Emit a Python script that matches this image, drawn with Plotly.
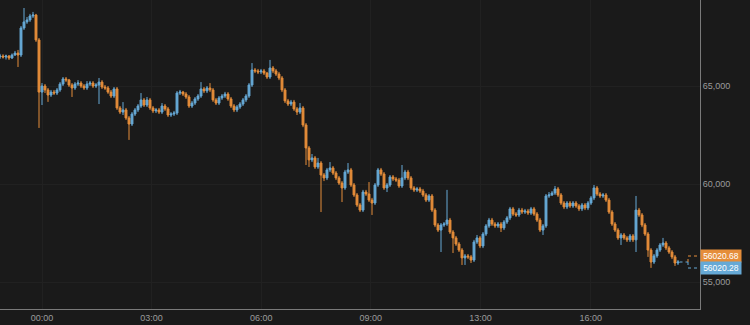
import plotly.graph_objects as go

# ---- data ----
tick_pos = [14.0, 50.5, 87.1, 123.6, 160.2, 196.9]
tick_labels = ["00:00", "03:00", "06:00", "09:00", "13:00", "16:00"]

opens = [
66480,66530,66480,66530,66430,66580,66680,66580,67960,68270,
68370,68570,68620,67350,64690,65000,64800,64540,64690,64640,
64800,65100,65360,65310,65050,64900,65100,65150,65000,64900,
65100,65150,65000,65050,65200,64950,64900,64690,64490,64850,
63880,63670,63780,63370,63060,63570,63780,63980,64290,64030,
64290,63880,63730,63780,63670,63980,63830,63520,63570,63620,
64640,64690,64590,64440,63980,64130,64340,64490,64850,64750,
64900,64800,64290,64130,64390,64490,64590,64340,63980,63780,
63930,64080,64290,64490,65050,65820,65770,65720,65770,65660,
65460,65920,65770,65610,65410,64800,64240,64080,64180,63830,
63670,63880,63010,61840,61230,61330,60870,61070,60460,60310,
60720,60820,60560,60310,60050,59800,60610,60720,59950,59440,
58930,58670,59590,59490,59180,59030,59950,60720,60510,59800,
59950,60360,60260,60200,59900,60310,60610,60310,59800,59690,
59750,59640,59440,59180,59390,58670,57910,57650,57910,57960,
58160,57550,57250,56940,56630,56230,56330,56280,56120,57040,
57250,56840,57450,57860,58160,57960,57860,57960,57760,58060,
58270,58730,58470,58420,58670,58570,58620,58520,58730,58470,
58160,57650,57860,59390,59440,59540,59750,59440,59030,58830,
59030,58880,59030,58880,58730,58930,58780,59030,59290,59800,
59490,59390,59440,59180,58570,57960,57650,57250,57400,57250,
57150,57350,57150,58670,58420,57910,57450,56630,56020,56330,
56630,56890,56990,56740,56530,56280,55970]

closes = [
66530,66480,66530,66430,66580,66680,66580,67960,68270,68370,
68570,68620,67350,64690,65000,64800,64540,64690,64640,64800,
65100,65360,65310,65050,64900,65100,65150,65000,64900,65100,
65150,65000,65050,65200,64950,64900,64690,64490,64850,63880,
63670,63780,63370,63060,63570,63780,63980,64290,64030,64290,
63880,63730,63780,63670,63980,63830,63520,63570,63620,64640,
64690,64590,64440,63980,64130,64340,64490,64850,64750,64900,
64800,64290,64130,64390,64490,64590,64340,63980,63780,63930,
64080,64290,64490,65050,65820,65770,65720,65770,65660,65460,
65920,65770,65610,65410,64800,64240,64080,64180,63830,63670,
63880,63010,61840,61230,61330,60870,61070,60460,60310,60720,
60820,60560,60310,60050,59800,60610,60720,59950,59440,58930,
58670,59590,59490,59180,59030,59950,60720,60510,59800,59950,
60360,60260,60200,59900,60310,60610,60310,59800,59690,59750,
59640,59440,59180,59390,58670,57910,57650,57910,57960,58160,
57550,57250,56940,56630,56230,56330,56280,56120,57040,57250,
56840,57450,57860,58160,57960,57860,57960,57760,58060,58270,
58730,58470,58420,58670,58570,58620,58520,58730,58470,58160,
57650,57860,59390,59440,59540,59750,59440,59030,58830,59030,
58880,59030,58880,58730,58930,58780,59030,59290,59800,59490,
59390,59440,59180,58570,57960,57650,57250,57400,57250,57150,
57350,57150,58670,58420,57910,57450,56630,56020,56330,56630,
56890,56990,56740,56530,56280,55970,56020.28]

highs = [
66640,66620,66600,66580,66660,66790,66840,68060,68980,68520,
68680,68780,68680,67450,65150,65100,64900,64800,64800,64900,
65200,65460,65460,65360,65150,65200,65300,65250,65100,65250,
65260,65250,65150,65410,65300,65050,65000,64800,64950,64950,
63980,64180,63880,63470,63670,63880,64080,64640,64390,64440,
64390,63980,63880,63880,64130,64080,63930,63670,63730,64740,
64800,64750,64690,64540,64240,64440,64590,65200,64950,65000,
65150,64900,64390,64490,64590,64700,64690,64440,64080,64030,
64180,64390,64590,65150,66170,65920,65870,65870,65870,65720,
66330,66020,65870,65720,65510,64900,64340,64290,64290,63930,
64130,63980,63110,61940,61530,61430,61330,61170,60560,60820,
61120,60920,60660,60410,60150,60720,61070,60820,60050,59540,
59030,59700,59700,60100,59290,60050,60820,60820,60610,60050,
60460,60460,60360,60310,60970,60720,60720,60410,59900,59850,
59850,59750,59540,59490,59490,58770,58010,58010,58060,59700,
58270,57650,57350,57040,56730,56430,56430,56380,57150,57400,
57350,57550,57960,58270,58270,58060,58060,58060,58160,58370,
58830,58830,58570,58780,58780,58730,58730,58830,58830,58570,
58270,57960,59490,59590,59640,59900,59850,59540,59130,59130,
59130,59130,59130,58980,59030,59030,59130,59390,59950,59900,
59590,59540,59540,59290,58670,58060,57750,57500,57500,57350,
57450,57450,59390,58780,58520,58010,57550,56730,56430,56730,
56990,57250,57090,56840,56630,56380,56120]

lows = [
66380,66400,66350,66330,66380,66540,65970,66480,67860,68170,
68270,68470,67250,62860,64030,64640,64190,64440,64540,64540,
64700,65000,65200,64950,64440,64800,65000,64900,64800,64800,
65000,64900,64900,64080,64850,64800,64600,64390,64390,63780,
63570,63520,63270,62250,62960,63470,63670,63880,63930,63930,
63780,63620,63620,63570,63570,63730,63420,63420,63470,63520,
64540,64490,64340,63880,63880,64030,64240,64390,64640,64640,
64690,64190,64030,64030,64290,64390,64240,63880,63670,63670,
63830,63980,64180,64390,64950,65660,65610,65610,65560,65360,
65360,65660,65510,65300,64690,64130,63980,63980,63730,63520,
63570,62900,60970,60870,61120,60770,60770,58570,60150,60200,
60610,60460,60200,59950,59080,59700,60510,59850,59340,58830,
58570,58570,59390,59080,58420,58930,59850,60410,59700,59590,
59850,60150,60100,59800,59800,60200,60200,59700,59590,59590,
59540,59340,59080,59080,58570,57800,57550,56530,57810,57860,
57450,56480,56840,56530,55870,55870,56170,55970,56020,56940,
56730,56730,57350,57760,57860,57760,57760,57550,57650,57960,
58160,58370,58320,58320,58470,58470,58420,58420,58370,58060,
57550,57400,57760,59290,59390,59440,59340,58930,58720,58720,
58780,58780,58780,58620,58620,58670,58670,58930,59180,59390,
59290,59290,59080,58470,57860,57550,57150,56890,57150,57040,
57040,57040,56530,58320,57800,57350,56280,55720,55920,56230,
56530,56790,56630,56430,56170,55820,55870]

ask_price = 56020.68
bid_price = 56020.28

# ---- styling ----
UP = "#66a9d6"
DOWN = "#e58d3a"
BG = "#1a1a1a"
GRID = "#212121"
AXIS = "#7a7a7a"
TXT = "#9a9a9a"

W, H = 750, 325
ML, MR, MT, MB = 0, 50, 0, 16
x_range = [0, 233.33]
y_range = [53623, 69388]

idx = list(range(len(closes)))

fig = go.Figure()
fig.add_trace(go.Candlestick(
    x=idx, open=opens, high=highs, low=lows, close=closes,
    increasing=dict(line=dict(color=UP, width=1), fillcolor=UP),
    decreasing=dict(line=dict(color=DOWN, width=1), fillcolor=DOWN),
    whiskerwidth=0, hoverinfo="skip", showlegend=False,
))

# pixel -> price scale for the price-tag offsets
plot_h = H - MT - MB
plot_w = W - ML - MR
ppx = (y_range[1] - y_range[0]) / plot_h
xpx = (x_range[1] - x_range[0]) / plot_w
last_x = idx[-1]
split_x = last_x + 10 * xpx
ask_y = ask_price + 6 * ppx
bid_y = bid_price - 6 * ppx

dash = dict(width=1, dash="3px,3px")
fig.add_shape(type="line", x0=last_x + 1.5 * xpx, x1=split_x, y0=bid_price, y1=bid_price,
              line=dict(color=UP, **dash))
fig.add_shape(type="path", path=f"M {split_x},{ask_price} L {split_x},{ask_y} L {x_range[1]},{ask_y}",
              line=dict(color=DOWN, **dash))
fig.add_shape(type="path", path=f"M {split_x},{bid_price} L {split_x},{bid_y} L {x_range[1]},{bid_y}",
              line=dict(color=UP, **dash))

for price, col, shift in [(ask_price, DOWN, 6), (bid_price, UP, -6)]:
    fig.add_annotation(
        x=1, xref="paper", xanchor="left", y=price, yref="y", yshift=shift,
        text=f"{price:.2f}", showarrow=False, bgcolor=col,
        font=dict(family="Liberation Sans, Arial, sans-serif", size=8.5, color="#ffffff"),
        width=38, height=10, borderpad=1, align="center",
    )

fig.update_layout(
    width=W, height=H,
    margin=dict(l=ML, r=MR, t=MT, b=MB, pad=0),
    paper_bgcolor=BG, plot_bgcolor=BG,
    boxgap=0.1,
    font=dict(family="Liberation Sans, Arial, sans-serif", size=9, color=TXT),
    xaxis=dict(
        range=x_range, tickmode="array", tickvals=tick_pos, ticktext=tick_labels,
        showgrid=True, gridcolor=GRID, gridwidth=1, zeroline=False,
        showline=True, linecolor=AXIS, linewidth=1, ticks="",
        rangeslider=dict(visible=False), tickfont=dict(size=9, color=TXT),
    ),
    yaxis=dict(
        range=y_range, side="right", tickmode="array",
        tickvals=[55000, 60000, 65000], ticktext=["55,000", "60,000", "65,000"],
        showgrid=True, gridcolor=GRID, gridwidth=1, zeroline=False,
        showline=True, linecolor=AXIS, linewidth=1, ticks="",
        tickfont=dict(size=9, color=TXT),
    ),
    hovermode=False,
)

fig.write_html("out.html")
